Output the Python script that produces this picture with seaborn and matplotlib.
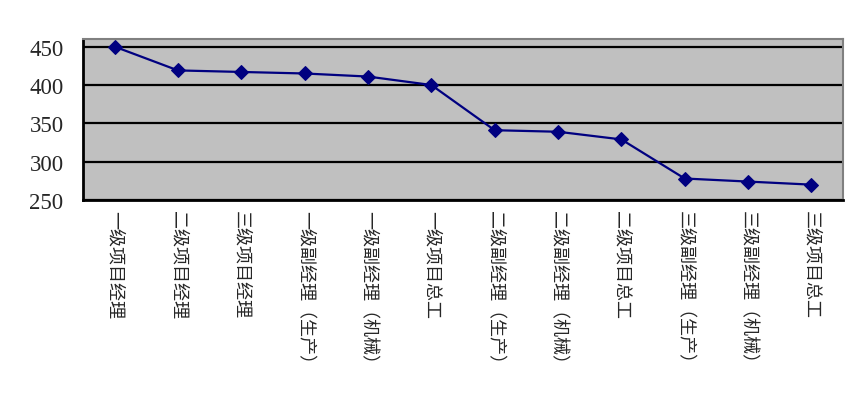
import numpy as np
import pandas as pd
import seaborn as sns
import matplotlib.pyplot as plt
from matplotlib.ticker import FixedLocator

# chart data
positions = ['一级项目经理', '二级项目经理', '三级项目经理',
             '一级副经理（生产）', '一级副经理（机械）', '一级项目总工',
             '二级副经理（生产）', '二级副经理（机械）', '二级项目总工',
             '三级副经理（生产）', '三级副经理（机械）', '三级项目总工']
scores = [450, 419, 417, 415, 411, 400, 341, 339, 329, 278, 274, 270]
y_ticks = [250, 300, 350, 400, 450]

df = pd.DataFrame({'岗位': positions, '分值': scores})

sns.set_style('white')
plt.rcParams['font.family'] = ['Noto Sans CJK SC', 'DejaVu Sans']

fig = plt.figure(figsize=(8.67, 4.06), dpi=100)
ax = fig.add_axes([0.0957, 0.505, 0.8766, 0.3965])
ax.set_facecolor('#C0C0C0')

sns.lineplot(data=df, x='岗位', y='分值', ax=ax, color='#000080',
             marker='D', markersize=7.5, markeredgecolor='#000080',
             linewidth=1.6, sort=False)

ax.set_xlim(-0.5, len(positions) - 0.5)
ax.set_ylim(250, 460)
ax.set_yticks(y_ticks)
ax.yaxis.grid(True, color='black', linewidth=1.6)
ax.set_axisbelow(True)

ax.set_xlabel('')
ax.set_ylabel('')
ax.set_xticks(range(len(positions)))
ax.set_xticklabels(positions, rotation=-90, va='top', ha='center', fontsize=13)
ax.xaxis.set_minor_locator(FixedLocator(np.arange(0.5, len(positions) - 1, 1)))
ax.tick_params(axis='x', which='major', length=0, pad=7)
ax.tick_params(axis='x', which='minor', direction='in', length=5, width=1.5, color='black')
ax.tick_params(axis='y', length=0, pad=14)
for lab in ax.get_yticklabels():
    lab.set_fontfamily('Liberation Serif')
    lab.set_fontsize(16.5)

for side in ['left', 'bottom']:
    ax.spines[side].set_color('black')
    ax.spines[side].set_linewidth(2)
for side in ['top', 'right']:
    ax.spines[side].set_color('#808080')
    ax.spines[side].set_linewidth(1.5)

fig.savefig('out.png', dpi=100)
